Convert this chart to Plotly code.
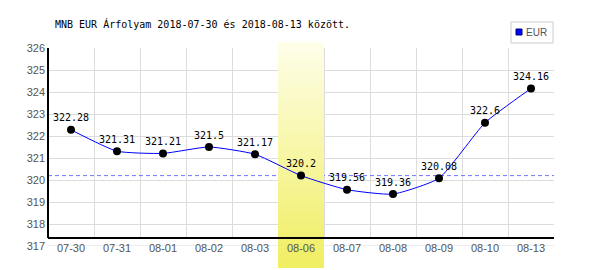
import plotly.graph_objects as go

# ---- data ----
dates = ["07-30", "07-31", "08-01", "08-02", "08-03", "08-06",
         "08-07", "08-08", "08-09", "08-10", "08-13"]
rates = [322.28, 321.31, 321.21, 321.5, 321.17, 320.2,
         319.56, 319.36, 320.08, 322.6, 324.16]
rate_labels = ["322.28", "321.31", "321.21", "321.5", "321.17", "320.2",
               "319.56", "319.36", "320.08", "322.6", "324.16"]
highlight_date = "08-06"
reference_rate = 320.2
y_ticks = list(range(317, 327))
title_text = "MNB EUR Árfolyam 2018-07-30 és 2018-08-13 között."
series_name = "EUR"

# ---- layout geometry (pixels) ----
W, H = 600, 270
L, R, T, B = 48, 46, 48, 24
PW, PH = W - L - R, H - T - B
YMIN, YMAX = 317, 326


def pxx(x):
    return (x - L) / PW


def pxy(y):
    return (H - B - y) / PH


def pix2data(y):
    return YMIN + (H - B - y) / PH * (YMAX - YMIN)


GRID = "#dcdcdc"
TICKFONT = dict(family="Liberation Sans, Arial, sans-serif", size=11, color="#555555")
MONO = "DejaVu Sans Mono, monospace"

fig = go.Figure()
fig.add_trace(go.Scatter(
    x=dates, y=rates, text=rate_labels, name=series_name,
    mode="lines+markers+text", textposition="top center",
    textfont=dict(family=MONO, size=10, color="black"),
    line=dict(color="#0000ff", width=1, shape="spline", smoothing=0.5),
    marker=dict(color="black", size=8),
    cliponaxis=False, showlegend=False,
))

shapes = []
hi = dates.index(highlight_date)
# white mask below x axis line + 317 grid line
shapes.append(dict(type="rect", layer="between", xref="x", yref="y",
                   x0=-0.5, x1=len(dates) - 0.5, y0=YMIN, y1=pix2data(238),
                   fillcolor="white", line_width=0))
shapes.append(dict(type="line", layer="between", xref="x", yref="y",
                   x0=-0.5, x1=len(dates) - 0.5, y0=YMIN, y1=YMIN,
                   line=dict(color=GRID, width=1)))
# dashed reference line
shapes.append(dict(type="line", layer="between", xref="x", yref="y",
                   x0=-0.5, x1=len(dates) - 0.5, y0=reference_rate, y1=reference_rate,
                   line=dict(color="#7373ff", width=1, dash="4px,3px")))

# highlight band gradient (strips)
top_px, bot_px = 42, 268
c_top = (254, 254, 234)
c_bot = (240, 238, 96)
step = 3
p = top_px
while p < bot_px:
    q = min(p + step, bot_px)
    t = ((p + q) / 2 - top_px) / (bot_px - top_px)
    col = "rgb(%d,%d,%d)" % tuple(round(a + (b - a) * t) for a, b in zip(c_top, c_bot))
    shapes.append(dict(type="rect", layer="below", xref="x", yref="paper",
                       x0=hi - 0.5, x1=hi + 0.5, y0=pxy(min(q + 0.5, bot_px)), y1=pxy(p),
                       fillcolor=col, line_width=0))
    shapes.append(dict(type="rect", layer="between", xref="x", yref="y",
                       x0=hi - 0.5, x1=hi + 0.5, y0=pix2data(min(q + 0.5, bot_px)), y1=pix2data(p),
                       fillcolor=col, line_width=0))
    p = q

# axis lines
shapes.append(dict(type="line", layer="above", xref="paper", yref="paper",
                   x0=0, x1=1, y0=pxy(238), y1=pxy(238),
                   line=dict(color="black", width=2)))
shapes.append(dict(type="line", layer="above", xref="paper", yref="paper",
                   x0=0, x1=0, y0=pxy(238), y1=1,
                   line=dict(color="black", width=2)))

# legend box
shapes.append(dict(type="rect", layer="above", xref="paper", yref="paper",
                   x0=pxx(511), x1=pxx(553), y0=pxy(43), y1=pxy(22),
                   fillcolor="white", line=dict(color="#cccccc", width=1)))
shapes.append(dict(type="rect", layer="above", xref="paper", yref="paper",
                   x0=pxx(516), x1=pxx(522), y0=pxy(35), y1=pxy(29),
                   fillcolor="#0000ff", line=dict(color="#000080", width=1)))

annotations = [
    dict(text=title_text, xref="paper", yref="paper", x=pxx(53), y=pxy(24),
         xanchor="left", yanchor="middle", showarrow=False,
         font=dict(family=MONO, size=10, color="black")),
    dict(text=series_name, xref="paper", yref="paper", x=pxx(523.5), y=pxy(32.5),
         xanchor="left", yanchor="middle", showarrow=False,
         font=dict(family="Liberation Sans, Arial, sans-serif", size=10, color="#555555")),
]

fig.update_layout(
    width=W, height=H, margin=dict(l=L, r=R, t=T, b=B, pad=0),
    paper_bgcolor="white", plot_bgcolor="white",
    showlegend=False, shapes=shapes, annotations=annotations,
    xaxis=dict(type="category", range=[-0.5, len(dates) - 0.5],
               tickson="boundaries", showgrid=True, gridcolor=GRID, gridwidth=1,
               ticks="", showline=False, zeroline=False,
               tickfont=TICKFONT, ticklabelstandoff=-6, fixedrange=True),
    yaxis=dict(range=[YMIN, YMAX], tickvals=y_ticks, showgrid=True,
               gridcolor=GRID, gridwidth=1, ticks="", showline=False,
               zeroline=False, tickfont=TICKFONT, ticklabelstandoff=2,
               fixedrange=True),
)

fig.write_html("out.html")
